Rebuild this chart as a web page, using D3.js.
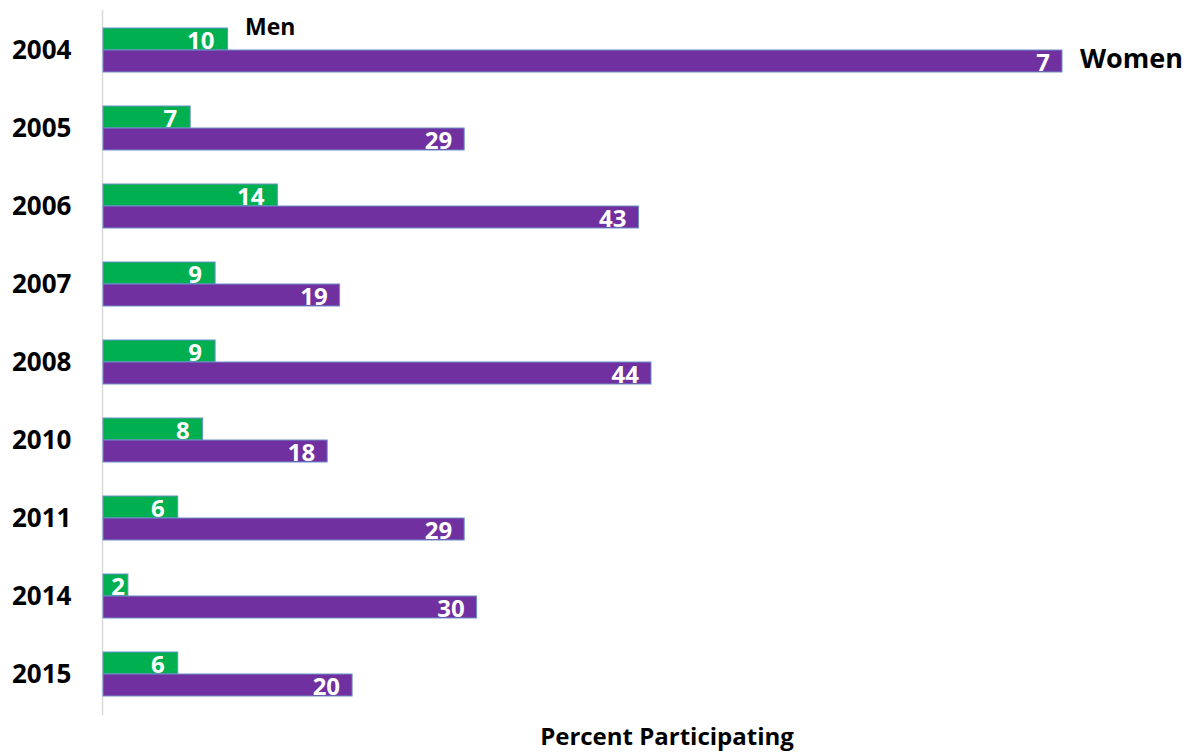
<!DOCTYPE html>
<html><head><meta charset="utf-8">
<script src="https://cdn.jsdelivr.net/npm/d3@7"></script>
<style>body{margin:0;background:#fff}svg{display:block}text{font-family:"Open Sans",sans-serif;font-weight:700}</style>
</head><body><svg id="c" width="1189" height="752"></svg>
<script>
const years = ["2004","2005","2006","2007","2008","2010","2011","2014","2015"];
const men = [10,7,14,9,9,8,6,2,6];
const women = [77,29,43,19,44,18,29,30,20];
const womenLabels = ["7","29","43","19","44","18","29","30","20"];
const menLabels = men.map(String);

const svg = d3.select("#c");
const x = d3.scaleLinear().domain([0,77]).range([103,1062]);
const y = d3.scaleBand().domain(years).range([11,713]);
const bh = 22;

svg.append("line").attr("x1",102.5).attr("x2",102.5).attr("y1",10).attr("y2",715)
  .attr("stroke","#d9d9d9").attr("stroke-width",1.5);

const g = svg.append("g");
years.forEach((yr,i)=>{
  const c = y(yr)+y.bandwidth()/2;
  g.append("rect").attr("x",x(0)).attr("y",c-bh).attr("width",x(men[i])-x(0)).attr("height",bh)
    .attr("fill","#00b050").attr("stroke","#6f8fc9").attr("stroke-width",1);
  g.append("rect").attr("x",x(0)).attr("y",c).attr("width",x(women[i])-x(0)).attr("height",bh)
    .attr("fill","#7030a0").attr("stroke","#6f8fc9").attr("stroke-width",1);
  g.append("text").attr("x",Math.max(x(men[i])-13, x(0)+22)).attr("y",c-1).attr("text-anchor","end")
    .attr("fill","#fff").attr("font-size",24).text(menLabels[i]);
  g.append("text").attr("x",Math.max(x(women[i])-12, x(0)+22)).attr("y",c+bh-1).attr("text-anchor","end")
    .attr("fill","#fff").attr("font-size",24).text(womenLabels[i]);
  svg.append("text").attr("x",12).attr("y",c+9).attr("fill","#000").attr("font-size",26).text(yr);
});

svg.append("text").attr("x",245).attr("y",35).attr("font-size",23).attr("fill","#000").text("Men");
svg.append("text").attr("x",1080).attr("y",68).attr("font-size",27).attr("fill","#000").text("Women");
svg.append("text").attr("x",667).attr("y",745).attr("text-anchor","middle").attr("font-size",24).attr("fill","#000").text("Percent Participating");
</script></body></html>
